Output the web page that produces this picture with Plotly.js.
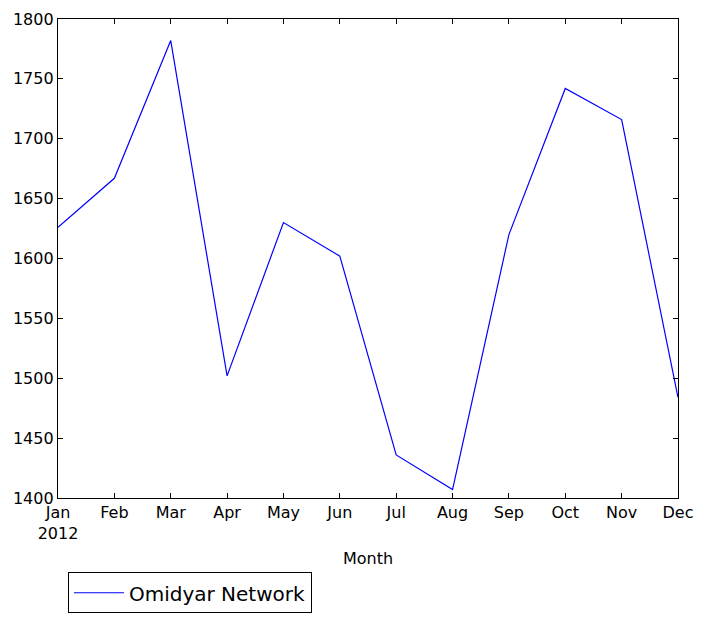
<!DOCTYPE html>
<html>
<head>
<meta charset="utf-8">
<script src="https://cdn.plot.ly/plotly-3.0.1.min.js"></script>
<style>html,body{margin:0;padding:0;background:#fff;}#chart{width:703px;height:621px;}</style>
</head>
<body>
<div id="chart"></div>
<script>
const months = ["Jan","Feb","Mar","Apr","May","Jun","Jul","Aug","Sep","Oct","Nov","Dec"];
const tickLabels = ["Jan<br>2012","Feb","Mar","Apr","May","Jun","Jul","Aug","Sep","Oct","Nov","Dec"];
const omidyar = [1626, 1667, 1782, 1502, 1630, 1602, 1436, 1407, 1620, 1742, 1716, 1484];
const yTicks = [1400,1450,1500,1550,1600,1650,1700,1750,1800];

const xIdx = months.map((m, i) => i);

const trace = {
  x: xIdx,
  y: omidyar,
  type: 'scatter',
  mode: 'lines',
  name: 'Omidyar Network',
  line: {color: '#0000ff', width: 1.2}
};

const layout = {
  width: 703, height: 621,
  margin: {l: 58, r: 25, t: 19, b: 123, autoexpand: false},
  paper_bgcolor: '#fff', plot_bgcolor: '#fff',
  font: {family: 'DejaVu Sans', size: 16, color: '#000'},
  showlegend: true,
  xaxis: {
    range: [0, 11],
    tickvals: xIdx, ticktext: tickLabels,
    ticks: 'inside', ticklen: 5, tickcolor: '#000', tickwidth: 1,
    showline: true, linecolor: '#000', linewidth: 1.2, mirror: 'ticks',
    showgrid: false, zeroline: false,
    tickfont: {size: 16},
    title: {text: 'Month', font: {size: 16}, standoff: 10}
  },
  yaxis: {
    range: [1400, 1800],
    tickvals: yTicks, ticktext: yTicks.map(String),
    ticks: 'inside', ticklen: 5, tickcolor: '#000', tickwidth: 1,
    showline: true, linecolor: '#000', linewidth: 1.2, mirror: 'ticks',
    showgrid: false, zeroline: false,
    tickfont: {size: 16}
  },
  legend: {
    x: 0.016, y: -0.155, xanchor: 'left', yanchor: 'top',
    bordercolor: '#000', borderwidth: 1,
    font: {size: 20},
    itemwidth: 50,
    bgcolor: '#fff'
  }
};

Plotly.newPlot('chart', [trace], layout, {displayModeBar: false, staticPlot: true});
</script>
</body>
</html>
